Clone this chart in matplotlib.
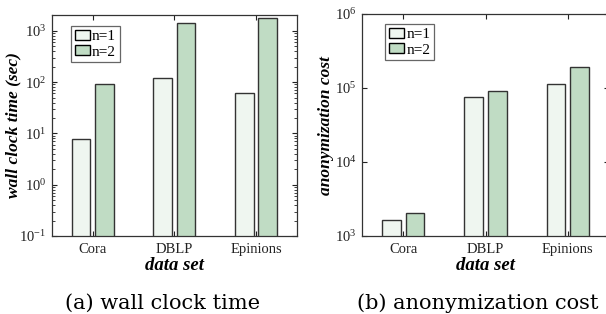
import numpy as np
import matplotlib
matplotlib.use("Agg")
import matplotlib.pyplot as plt
from matplotlib.patches import Patch
from matplotlib.ticker import LogLocator, NullFormatter

# data
datasets = ["Cora", "DBLP", "Epinions"]
series_names = ["n=1", "n=2"]
wall_time_n1 = [7.8, 120, 61]
wall_time_n2 = [93, 1435, 1750]
anon_cost_n1 = [1645, 74600, 113000]
anon_cost_n2 = [2030, 90000, 190000]

colors = ["#eff6f0", "#c0dcc4"]
edge = "#333333"
serif = "Liberation Serif"

plt.rcParams["font.family"] = serif
plt.rcParams["mathtext.fontset"] = "custom"
plt.rcParams["mathtext.rm"] = serif

fig = plt.figure(figsize=(6.06, 3.14), dpi=100)
ax1 = fig.add_axes([0.0853, 0.2484, 0.4048, 0.7038])
ax2 = fig.add_axes([0.5974, 0.2484, 0.4076, 0.707])

x = np.arange(1, len(datasets) + 1)
w = 0.228
off = 0.143


def draw(ax, v1, v2, ylim, ylabel, minor, leg_xy, label_x):
    ax.bar(x - off, v1, w, color=colors[0], edgecolor=edge, linewidth=1.0)
    ax.bar(x + off, v2, w, color=colors[1], edgecolor=edge, linewidth=1.0)
    ax.set_yscale("log")
    ax.set_ylim(*ylim)
    ax.set_xlim(0.5, 3.5)
    ax.set_xticks(x)
    ax.set_xticklabels(datasets)
    ax.yaxis.set_major_locator(LogLocator(base=10, numticks=20))
    if minor:
        ax.yaxis.set_minor_locator(LogLocator(base=10, subs=np.arange(2, 10), numticks=20))
        ax.yaxis.set_minor_formatter(NullFormatter())
    else:
        ax.yaxis.set_minor_locator(plt.NullLocator())
    ax.tick_params(axis="both", which="both", direction="in", top=True, right=True,
                   colors="#222222")
    ax.tick_params(axis="x", which="major", labelsize=10.5, pad=5)
    ax.tick_params(axis="y", which="major", labelsize=10.5, pad=4)
    ax.tick_params(axis="both", which="major", length=3.5, width=0.8)
    ax.tick_params(axis="y", which="minor", length=2, width=0.6)
    for s in ax.spines.values():
        s.set_color("#333333")
        s.set_linewidth(0.9)
    ax.set_xlabel("data set", fontsize=13.5, fontweight="bold", style="italic", labelpad=1)
    ax.set_ylabel(ylabel, fontsize=12.5, fontweight="bold", style="italic")
    ax.yaxis.set_label_coords(label_x, 0.5)
    handles = [Patch(facecolor=colors[i], edgecolor="black", linewidth=1.0, label=series_names[i])
               for i in range(2)]
    leg = ax.legend(handles=handles, loc="upper left", bbox_to_anchor=leg_xy,
                    fontsize=11, frameon=True, fancybox=False, framealpha=1,
                    edgecolor="#666666", handlelength=1.0, handleheight=0.6,
                    handletextpad=0.15, borderpad=0.25, labelspacing=0.15,
                    borderaxespad=0)
    leg.get_frame().set_linewidth(0.9)


draw(ax1, wall_time_n1, wall_time_n2, (0.1, 2030), "wall clock time (sec)", True,
     (0.0775, 0.95), -0.125)
draw(ax2, anon_cost_n1, anon_cost_n2, (1e3, 1e6), "anonymization cost", False,
     (0.0935, 0.955), -0.115)

fig.text(163 / 606, 1 - 303 / 314, "(a) wall clock time", ha="center", va="center",
         fontsize=15, family="DejaVu Serif")
fig.text(478 / 606, 1 - 303 / 314, "(b) anonymization cost", ha="center", va="center",
         fontsize=15, family="DejaVu Serif")

fig.savefig("out.png", dpi=100)
